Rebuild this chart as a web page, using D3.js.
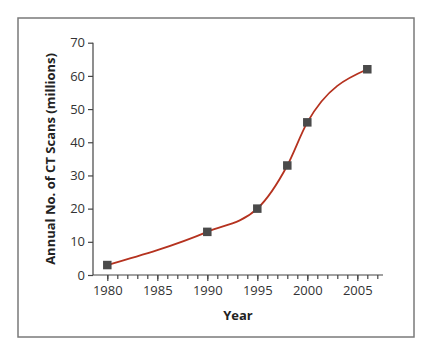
<!DOCTYPE html>
<html><head><meta charset="utf-8">
<script src="https://cdn.jsdelivr.net/npm/d3@7"></script>
<style>body{margin:0;background:#fff}svg{display:block}</style>
</head><body><svg id="c" width="433" height="356"></svg>
<script>
const years = [1980, 1990, 1995, 1998, 2000, 2006];
const scans = [3, 13, 20, 33, 46, 62];
const yTicks = [0, 10, 20, 30, 40, 50, 60, 70];
const xTicks = [1980, 1985, 1990, 1995, 2000, 2005];

const svg = d3.select("#c");
const font = "'Open Sans', 'DejaVu Sans', sans-serif";
svg.append("rect").attr("x", 18).attr("y", 18).attr("width", 396).attr("height", 319)
  .attr("fill", "#fff").attr("stroke", "#7a7a7a").attr("stroke-width", 1.5);

const x = d3.scaleLinear().domain([1980, 2005]).range([107.3, 357.3]);
const y = d3.scaleLinear().domain([0, 70]).range([275, 42.7]);
const x0 = x.invert(93), x1 = x.invert(383);

// y axis
const gy = svg.append("g").attr("transform", "translate(93,0)")
  .call(d3.axisLeft(y).tickValues(yTicks).tickSize(5).tickPadding(3));
gy.select(".domain").attr("d", `M0,${y(70)}V${y(0)}`);
// x axis
const minor = d3.range(1980, 2008);
const gx = svg.append("g").attr("transform", `translate(0,${y(0)})`)
  .call(d3.axisBottom(x).tickValues(minor).tickSize(4).tickFormat(""));
gx.select(".domain").attr("d", `M${x(x0)},0H${x(x1)}`);
const gx2 = svg.append("g").attr("transform", `translate(0,${y(0)})`)
  .call(d3.axisBottom(x).tickValues(xTicks).tickSize(6).tickPadding(5).tickFormat(d3.format("d")));
gx2.select(".domain").remove();

svg.selectAll(".domain, .tick line").attr("stroke", "#444").attr("stroke-width", 1.2);
svg.selectAll(".tick text").attr("font-family", font).attr("font-size", 13).attr("fill", "#333");

const pts = years.map((d, i) => [d, scans[i]]);
svg.append("path").datum(pts)
  .attr("d", d3.line().x(d => x(d[0])).y(d => y(d[1])).curve(d3.curveMonotoneX))
  .attr("fill", "none").attr("stroke", "#b5321f").attr("stroke-width", 1.8);

const s = 8.5;
svg.selectAll("rect.m").data(pts).join("rect").attr("class", "m")
  .attr("x", d => x(d[0]) - s / 2).attr("y", d => y(d[1]) - s / 2)
  .attr("width", s).attr("height", s).attr("fill", "#4a4a4a");

svg.append("text").attr("x", 238).attr("y", 320).attr("text-anchor", "middle")
  .attr("font-family", font).attr("font-weight", "bold").attr("font-size", 13)
  .attr("fill", "#222").text("Year");
svg.append("text").attr("transform", "translate(55,159) rotate(-90)").attr("text-anchor", "middle")
  .attr("font-family", font).attr("font-weight", "bold").attr("font-size", 13)
  .attr("fill", "#222").text("Annual No. of CT Scans (millions)");
</script></body></html>
